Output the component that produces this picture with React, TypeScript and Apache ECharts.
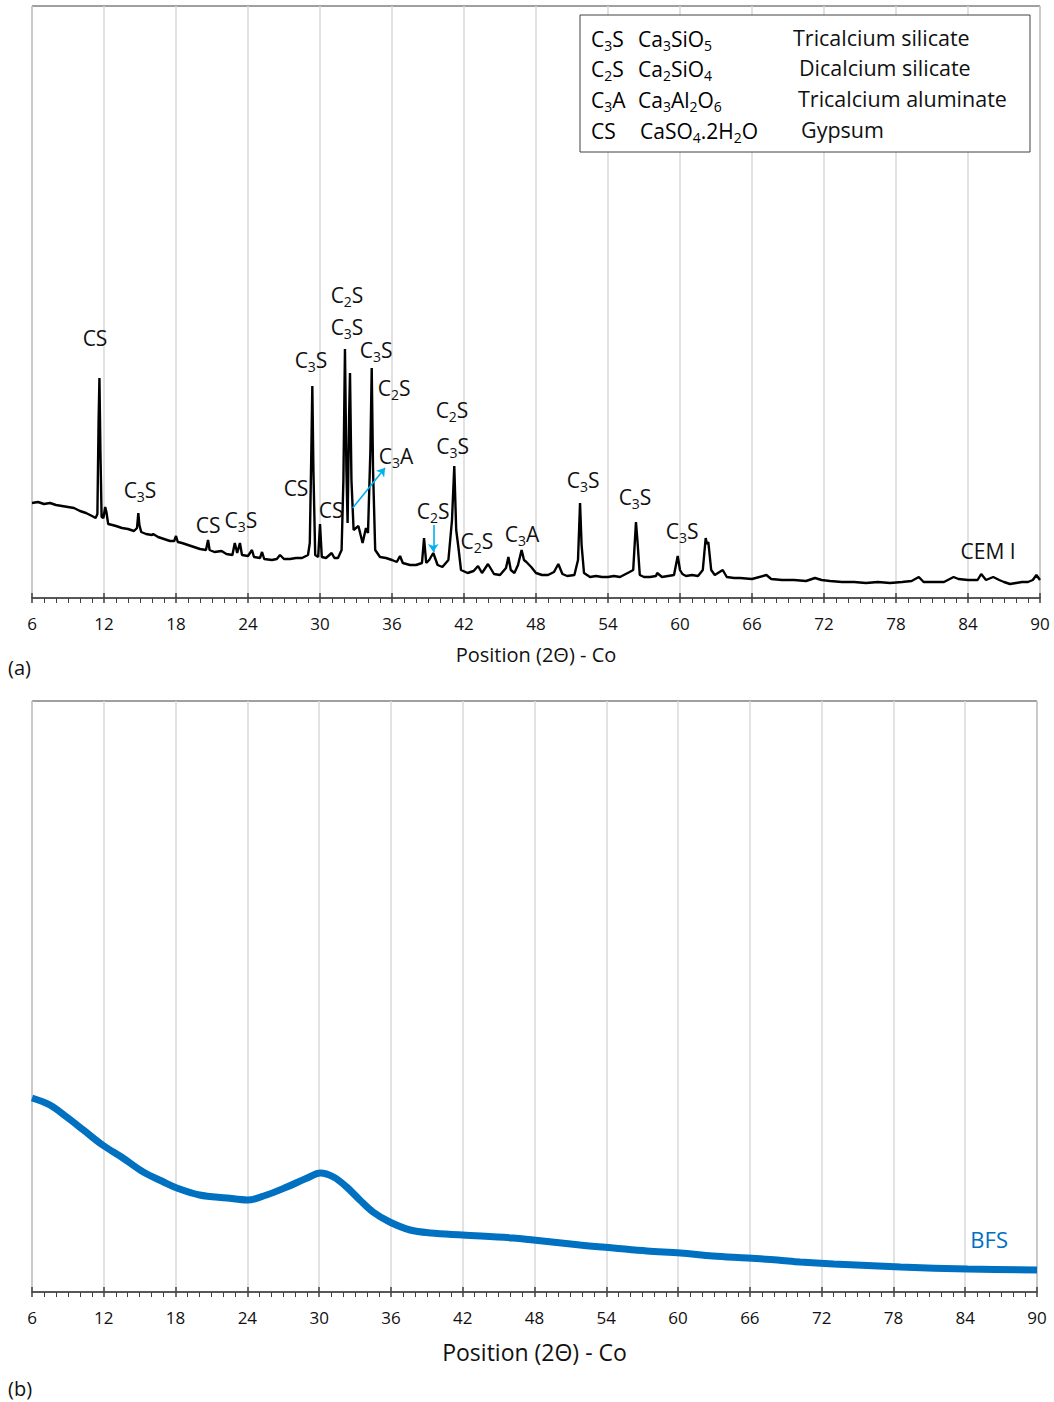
import React, { useEffect, useRef } from 'react';
import * as echarts from 'echarts';

const FONT = '"Open Sans", sans-serif';

// ---- (a) CEM I diffractogram: 2θ (deg) and relative intensity (px-scale units, 0..592)
const cemTheta = [
  6.0, 6.5, 7.0, 7.5, 8.0, 8.5, 9.0, 9.5, 10.0, 10.5, 11.0, 11.3, 11.45, 11.55, 11.62, 11.7, 11.8, 11.95,
  12.1, 12.2, 12.35, 12.7, 13.0, 13.5, 14.0, 14.5, 14.75, 14.86, 14.95, 15.1, 15.5, 16.0, 16.1, 16.5, 17.0,
  17.5, 17.85, 18.0, 18.15, 18.5, 19.0, 19.5, 20.0, 20.5, 20.67, 20.8, 21.2, 21.8, 22.2, 22.7, 22.9, 23.1,
  23.33, 23.5, 24.0, 24.33, 24.5, 25.0, 25.17, 25.35, 26.0, 26.4, 26.67, 27.0, 27.5, 28.0, 28.5, 29.0, 29.15,
  29.28, 29.36, 29.45, 29.6, 29.85, 30.0, 30.15, 30.5, 30.97, 31.2, 31.5, 31.8, 31.95, 32.08, 32.2, 32.3,
  32.42, 32.5, 32.62, 32.8, 33.2, 33.55, 33.83, 34.0, 34.2, 34.31, 34.42, 34.6, 35.0, 35.5, 36.0, 36.4,
  36.67, 36.9, 37.5, 38.0, 38.5, 38.67, 38.85, 39.1, 39.44, 39.8, 40.2, 40.7, 41.0, 41.19, 41.35, 41.53,
  41.75, 42.3, 42.8, 43.17, 43.5, 44.0, 44.5, 45.0, 45.5, 45.7, 45.9, 46.2, 46.5, 46.8, 47.0, 47.2, 47.6,
  48.0, 48.5, 49.0, 49.5, 49.86, 50.2, 50.6, 51.2, 51.5, 51.67, 51.8, 52.0, 52.5, 53.0, 53.5, 54.0, 54.5,
  55.0, 55.8, 56.1, 56.33, 56.45, 56.65, 57.0, 57.5, 58.0, 58.1, 58.5, 59.0, 59.5, 59.81, 60.0, 60.2,
  60.5, 61.0, 61.5, 61.9, 62.14, 62.25, 62.36, 62.6, 62.9, 63.56, 63.9, 64.5, 65.0, 66.0, 67.2, 67.6,
  68.5, 69.5, 70.5, 71.25, 71.8, 72.5, 73.5, 74.5, 75.5, 76.5, 77.5, 78.5, 79.3, 79.9, 80.3, 81.0, 82.0,
  82.8, 83.2, 84.0, 84.8, 85.1, 85.5, 86.1, 86.6, 87.0, 87.5, 88.0, 88.5, 89.0, 89.4, 89.7, 90.0,
];
const cemIntensity = [
  95, 96, 94, 95, 93, 92, 91, 90, 87, 85, 82, 80, 84, 178, 220, 148, 81, 80,
  91, 86, 74, 73, 72, 70, 69, 67, 70, 85, 73, 66, 64, 63, 64, 61, 59,
  57, 57, 62, 56, 55, 53, 51, 49, 48, 58, 48, 46, 47, 44, 43, 55, 45,
  55, 43, 42, 48, 41, 40, 46, 39, 38, 39, 43, 39, 39, 40, 40, 43, 55,
  148, 212, 128, 43, 41, 74, 41, 40, 45, 40, 40, 48, 118, 249, 128, 75,
  178, 225, 118, 68, 72, 55, 70, 65, 148, 230, 128, 48, 41, 40, 38, 36,
  42, 35, 33, 33, 35, 60, 35, 38, 45, 33, 31, 38, 78, 132, 68, 51,
  28, 25, 27, 32, 25, 34, 24, 23, 30, 41, 28, 25, 33, 48, 38, 36, 31,
  25, 23, 23, 26, 34, 24, 22, 23, 38, 95, 53, 25, 21, 22, 21, 21, 22,
  21, 26, 28, 76, 58, 23, 21, 21, 22, 25, 21, 22, 23, 42, 28, 24,
  22, 23, 22, 28, 60, 54, 56, 28, 23, 28, 21, 20, 20, 19, 23, 19,
  18, 18, 17, 20, 18, 17, 16, 16, 15, 16, 15, 16, 17, 21, 16, 16, 16,
  21, 19, 18, 18, 24, 18, 21, 18, 16, 14, 15, 16, 16, 18, 23, 18,
];

// ---- (b) BFS diffractogram
const bfsTheta = [
  6.0, 7.5, 8.9, 10.3, 11.9, 13.6, 15.3, 17.0, 18.1, 20.0, 22.3, 24.0, 25.6, 27.3, 29.0, 30.1, 31.2,
  32.3, 33.4, 34.5, 35.9, 37.6, 39.3, 42.0, 46.2, 47.9, 51.8, 54.6, 57.4, 60.2, 62.9, 65.8, 68.3, 70.2,
  73.0, 78.6, 84.2, 90.0,
];
const bfsIntensity = [
  194, 187, 175, 162, 147, 134, 120, 110, 104, 97, 94, 92, 97, 105, 114, 119, 115,
  105, 92, 80, 70, 62, 59, 57, 54, 52, 47, 44, 41, 39, 36, 34, 32, 30,
  28, 25, 23, 22,
];

// ---- peak annotations of (a)
const peakLabelText = [
  'CS', 'C{s|3}S', 'CS', 'C{s|3}S', 'C{s|3}S', 'CS', 'CS', 'C{s|2}S', 'C{s|3}S', 'C{s|3}S', 'C{s|2}S',
  'C{s|3}A', 'C{s|2}S', 'C{s|2}S', 'C{s|3}S', 'C{s|2}S', 'C{s|3}A', 'C{s|3}S', 'C{s|3}S', 'C{s|3}S', 'CEM I',
];
const peakLabelTheta = [
  11.25, 15.0, 20.67, 23.4, 29.25, 28.0, 30.92, 32.25, 32.25, 34.67, 36.17,
  36.33, 39.42, 41.0, 41.05, 43.08, 46.83, 51.92, 56.25, 60.17, 85.67,
];
const peakLabelLevel = [
  260, 108, 73, 78, 238, 110, 88, 303, 271, 248, 210,
  142, 87, 188, 152, 57, 64, 118, 101, 67, 47,
];
const arrowFrom = [[32.72, 90], [39.44, 73]];
const arrowTo = [[35.42, 130], [39.44, 46]];

// ---- legend box text
const legendAbbr = ['C{s|3}S', 'C{s|2}S', 'C{s|3}A', 'CS'];
const legendFormula = ['Ca{s|3}SiO{s|5}', 'Ca{s|2}SiO{s|4}', 'Ca{s|3}Al{s|2}O{s|6}', 'CaSO{s|4}.2H{s|2}O'];
const legendName = ['Tricalcium silicate', 'Dicalcium silicate', 'Tricalcium aluminate', 'Gypsum'];

const AXIS_COLOR = '#404040';
const TEXT_COLOR = '#111111';

const richStyle = (size: number, color: string) => ({
  n: { fontSize: size, fontFamily: FONT, color, lineHeight: 26, opacity: 1 },
  s: { fontSize: Math.round(size * 0.68), fontFamily: FONT, color, lineHeight: 13, padding: [12, 0, 0, 0], opacity: 1 },
});

const wrapRich = (t: string) =>
  t
    .split(/(\{s\|[^}]*\})/)
    .filter((p) => p.length > 0)
    .map((p) => (p.startsWith('{s|') ? p : `{n|${p}}`))
    .join('');

function makeXAxis(gridIndex: number, nameSize: number, nameGap: number) {
  return [
    {
      type: 'value',
      gridIndex,
      min: 6,
      max: 90,
      interval: 6,
      position: 'bottom',
      axisLine: { show: true, onZero: false, lineStyle: { color: AXIS_COLOR, width: 1.5 } },
      axisTick: { show: true, length: 5, lineStyle: { color: AXIS_COLOR, width: 1.5 } },
      minorTick: { show: true, splitNumber: 6, length: 5, lineStyle: { color: AXIS_COLOR, width: 1 } },
      axisLabel: { fontSize: 17, color: TEXT_COLOR, margin: 17, fontFamily: FONT },
      splitLine: { show: true, lineStyle: { color: '#d9d9d9', width: 1.5 } },
      name: 'Position (2Θ) - Co',
      nameLocation: 'middle',
      nameGap,
      nameTextStyle: { fontSize: nameSize, color: TEXT_COLOR, fontFamily: FONT },
    },
    {
      type: 'value',
      gridIndex,
      min: 6,
      max: 90,
      interval: 6,
      position: 'bottom',
      axisLine: { show: false },
      axisTick: { show: true, inside: true, length: 5, lineStyle: { color: AXIS_COLOR, width: 1.5 } },
      axisLabel: { show: false },
      splitLine: { show: false },
    },
  ];
}

export default function App() {
  const ref = useRef<HTMLDivElement>(null);

  useEffect(() => {
    if (!ref.current) return;
    const chart = echarts.init(ref.current, undefined, { renderer: 'svg' });

    const cemData = cemTheta.map((t, i) => [t, cemIntensity[i]]);
    const bfsData = bfsTheta.map((t, i) => [t, bfsIntensity[i]]);
    const labelData = peakLabelText.map((t, i) => ({
      value: [peakLabelTheta[i], peakLabelLevel[i]],
      label: { formatter: wrapRich(t) },
    }));

    const legendGraphics: any[] = [
      {
        type: 'rect',
        shape: { x: 580, y: 15, width: 450, height: 137 },
        style: { fill: '#fff', stroke: AXIS_COLOR, lineWidth: 1 },
        z: 100,
      },
    ];
    const rowY = [37, 67, 98, 129];
    const nameX = [793, 799, 798, 801];
    legendAbbr.forEach((a, i) => {
      legendGraphics.push({
        type: 'text',
        z: 101,
        style: { text: wrapRich(a), rich: richStyle(21, TEXT_COLOR), x: 591, y: rowY[i] + 2, verticalAlign: 'middle', align: 'left' },
      });
      legendGraphics.push({
        type: 'text',
        z: 101,
        style: { text: wrapRich(legendFormula[i]), rich: richStyle(21, TEXT_COLOR), x: 638 + (i === 3 ? 2 : 0), y: rowY[i] + 2, verticalAlign: 'middle', align: 'left' },
      });
      legendGraphics.push({
        type: 'text',
        z: 101,
        style: { text: legendName[i], x: nameX[i], y: rowY[i], verticalAlign: 'middle', align: 'left', font: `21.5px ${FONT}`, fill: TEXT_COLOR },
      });
    });

    const labelSeriesCommon = {
      type: 'scatter',
      symbol: 'circle',
      symbolSize: 1,
      itemStyle: { color: 'rgba(255,255,255,0)', opacity: 1 },
      silent: true,
      z: 5,
      emphasis: { disabled: true },
    };

    const option: any = {
      animation: false,
      backgroundColor: '#fff',
      grid: [
        { left: 32, top: 6, width: 1008, height: 592, show: true, borderColor: AXIS_COLOR, borderWidth: 1, backgroundColor: 'transparent' },
        { left: 32, top: 701, width: 1005, height: 591, show: true, borderColor: AXIS_COLOR, borderWidth: 1, backgroundColor: 'transparent' },
      ],
      xAxis: [...makeXAxis(0, 20, 46), ...makeXAxis(1, 23, 48)],
      yAxis: [
        { type: 'value', gridIndex: 0, min: 0, max: 592, show: false },
        { type: 'value', gridIndex: 1, min: 0, max: 591, show: false },
      ],
      graphic: [
        { type: 'text', style: { text: '(a)', x: 8, y: 667, verticalAlign: 'middle', font: `20px ${FONT}`, fill: TEXT_COLOR } },
        { type: 'text', style: { text: '(b)', x: 8, y: 1388, verticalAlign: 'middle', font: `20px ${FONT}`, fill: TEXT_COLOR } },
        ...legendGraphics,
      ],
      series: [
        {
          type: 'line',
          xAxisIndex: 0,
          yAxisIndex: 0,
          data: cemData,
          showSymbol: false,
          lineStyle: { color: '#000', width: 2.4 },
          silent: true,
          z: 3,
        },
        {
          ...labelSeriesCommon,
          xAxisIndex: 0,
          yAxisIndex: 0,
          data: labelData,
          label: {
            show: true,
            position: 'inside',
            align: 'center',
            verticalAlign: 'middle',
            color: TEXT_COLOR,
            opacity: 1,
            textBorderWidth: 0,
            rich: richStyle(21, TEXT_COLOR),
          },
        },
        {
          type: 'lines',
          coordinateSystem: 'cartesian2d',
          xAxisIndex: 0,
          yAxisIndex: 0,
          symbol: ['none', 'arrow'],
          symbolSize: 8,
          silent: true,
          z: 6,
          lineStyle: { color: '#00B0F0', width: 1.6, opacity: 1 },
          data: arrowFrom.map((f, i) => ({ coords: [f, arrowTo[i]] })),
        },
        {
          type: 'line',
          xAxisIndex: 2,
          yAxisIndex: 1,
          data: bfsData,
          showSymbol: false,
          smooth: 0.35,
          lineStyle: { color: '#0070C0', width: 7 },
          silent: true,
          z: 3,
        },
        {
          ...labelSeriesCommon,
          xAxisIndex: 2,
          yAxisIndex: 1,
          data: [{ value: [86.0, 53], label: { formatter: 'BFS' } }],
          label: {
            show: true,
            position: 'inside',
            align: 'center',
            verticalAlign: 'middle',
            fontSize: 22,
            fontFamily: FONT,
            color: '#0070C0',
            opacity: 1,
            textBorderWidth: 0,
          },
        },
      ],
    };

    chart.setOption(option);
    return () => chart.dispose();
  }, []);

  return <div ref={ref} style={{ position: 'absolute', left: 0, top: 0, width: 1054, height: 1402, background: '#fff' }} />;
}
